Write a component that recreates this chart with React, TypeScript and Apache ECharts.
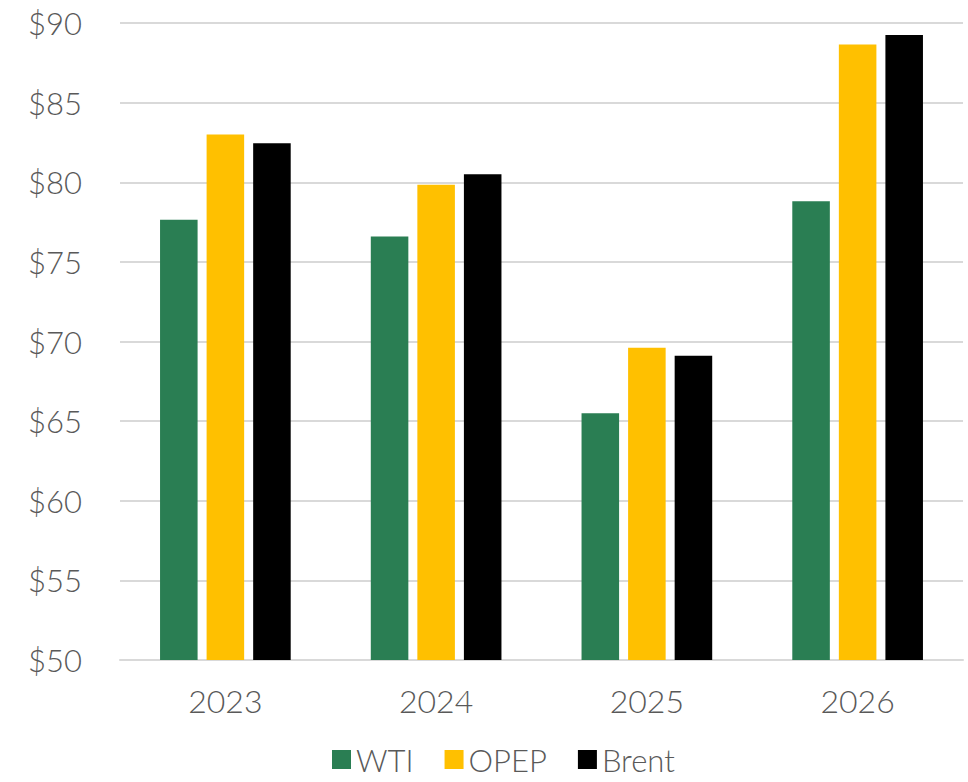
import React, { useEffect, useRef } from "react";
import * as echarts from "echarts";

const categories = ["2023", "2024", "2025", "2026"];
const wti = [77.65, 76.6, 65.5, 78.8];
const opep = [83.0, 79.85, 69.6, 88.65];
const brent = [82.45, 80.5, 69.1, 89.25];

const FONT = "Lato, 'Open Sans', sans-serif";
const TEXT = "#595959";

export default function App() {
  const ref = useRef<HTMLDivElement>(null);
  useEffect(() => {
    if (!ref.current) return;
    const chart = echarts.init(ref.current, undefined, { renderer: "svg" });
    const mk = (name: string, data: number[], color: string) => ({
      name,
      type: "bar",
      data,
      itemStyle: { color },
      barGap: "24%",
      barCategoryGap: "38%",
    });
    chart.setOption({
      animation: false,
      textStyle: { fontFamily: FONT },
      grid: { left: 120, right: 5, top: 23, bottom: 122 },
      legend: {
        bottom: 2,
        left: 327,
        itemWidth: 19,
        itemHeight: 19,
        itemGap: 31,
        icon: "rect",
        textStyle: { fontSize: 31, color: TEXT, fontFamily: FONT, fontWeight: 300 },
        data: ["WTI", "OPEP", "Brent"],
      },
      xAxis: {
        type: "category",
        data: categories,
        axisLine: { lineStyle: { color: "#d9d9d9", width: 2 } },
        axisTick: { show: false },
        axisLabel: { fontSize: 32, color: TEXT, margin: 24, fontFamily: FONT, fontWeight: 300 },
      },
      yAxis: {
        type: "value",
        min: 50,
        max: 90,
        interval: 5,
        axisLine: { show: false },
        axisTick: { show: false },
        splitLine: { lineStyle: { color: "#d9d9d9", width: 2 } },
        axisLabel: {
          fontSize: 31,
          color: TEXT,
          margin: 38,
          fontFamily: FONT,
          fontWeight: 300,
          formatter: (v: number) => "$" + v,
        },
      },
      series: [
        mk("WTI", wti, "#2a7e53"),
        mk("OPEP", opep, "#ffc000"),
        mk("Brent", brent, "#000000"),
      ],
    });
    return () => chart.dispose();
  }, []);
  return <div ref={ref} style={{ width: 968, height: 782, position: "absolute", left: 0, top: 0 }} />;
}
